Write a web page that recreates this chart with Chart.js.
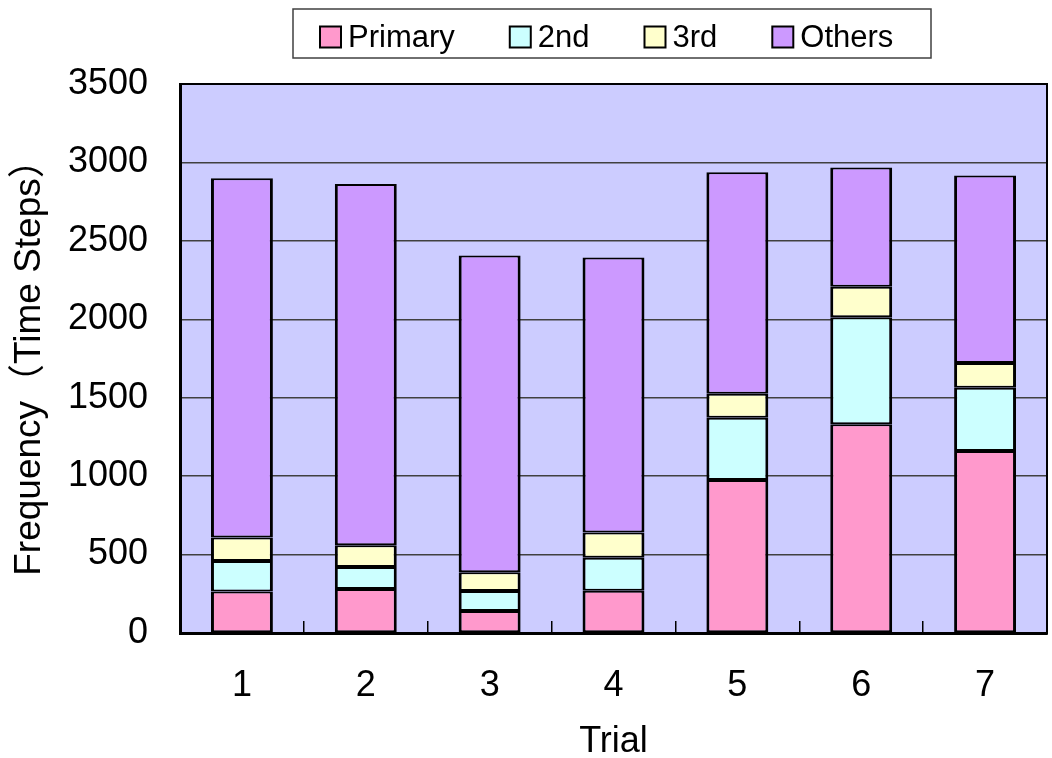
<!DOCTYPE html>
<html>
<head>
<meta charset="utf-8">
<script src="https://cdn.jsdelivr.net/npm/chart.js@4.4.0/dist/chart.umd.min.js"></script>
<style>
  html, body { margin: 0; padding: 0; background: #fff; }
</style>
</head>
<body>
<canvas id="trialChart" width="1052" height="758"></canvas>
<script>
const trials = ['1', '2', '3', '4', '5', '6', '7'];
const primary = [264, 281, 140, 270, 976, 1331, 1161];
const second = [195, 140, 128, 210, 397, 682, 402];
const third = [150, 138, 119, 160, 153, 194, 159];
const others = [2290, 2303, 2020, 1754, 1412, 761, 1195];
const yMax = 3500;
const yStep = 500;

const fontFamily = '"Liberation Sans", "Noto Sans CJK JP", Arial, sans-serif';
const axisFont = { family: fontFamily, size: 36 };

// purple plot area
const plotBg = {
  id: 'plotBg',
  beforeDraw(chart) {
    const { ctx, chartArea: a } = chart;
    ctx.save();
    ctx.fillStyle = '#CCCCFF';
    ctx.fillRect(a.left, a.top, a.right - a.left, a.bottom - a.top);
    ctx.restore();
  }
};

// black frame round the plot + boxed legend on top
const frameAndLegend = {
  id: 'frameAndLegend',
  afterDraw(chart) {
    const { ctx, chartArea: a } = chart;
    ctx.save();
    ctx.strokeStyle = '#000';
    ctx.lineWidth = 2;
    ctx.strokeRect(a.left, a.top, a.right - a.left, a.bottom - a.top);

    // legend frame
    ctx.fillStyle = '#fff';
    ctx.fillRect(293, 9, 638, 49);
    ctx.strokeStyle = '#404040';
    ctx.lineWidth = 1.5;
    ctx.strokeRect(293, 9, 638, 49);

    ctx.font = '31px "Liberation Sans", Arial, sans-serif';
    ctx.textBaseline = 'middle';
    const box = 21, gap = 7, space = 55, cy = 37;
    let x = 320;
    chart.data.datasets.forEach(ds => {
      ctx.fillStyle = ds.backgroundColor;
      ctx.fillRect(x, cy - box / 2, box, box);
      ctx.strokeStyle = '#000';
      ctx.lineWidth = 2;
      ctx.strokeRect(x, cy - box / 2, box, box);
      ctx.fillStyle = '#000';
      ctx.fillText(ds.label, x + box + gap, cy + 1);
      x += box + gap + ctx.measureText(ds.label).width + space;
    });
    ctx.restore();
  }
};

const ctx = document.getElementById('trialChart').getContext('2d');
const chart = new Chart(ctx, {
  type: 'bar',
  data: {
    labels: trials,
    datasets: [
      { label: 'Primary', data: primary, backgroundColor: '#FF99CC' },
      { label: '2nd', data: second, backgroundColor: '#CCFFFF' },
      { label: '3rd', data: third, backgroundColor: '#FFFFCC' },
      { label: 'Others', data: others, backgroundColor: '#CC99FF' }
    ]
  },
  options: {
    responsive: false,
    animation: false,
    layout: { padding: { top: 84, right: 5, left: 0, bottom: 0 } },
    datasets: {
      bar: {
        borderColor: '#000',
        borderWidth: { left: 3, right: 3, top: 2, bottom: 2 },
        borderSkipped: false,
        barPercentage: 0.5,
        categoryPercentage: 1.0
      }
    },
    plugins: {
      legend: { display: false },
      tooltip: { enabled: false }
    },
    scales: {
      x: {
        stacked: true,
        grid: {
          display: true,
          offset: true,
          drawOnChartArea: false,
          drawTicks: true,
          tickLength: -12,
          color: '#000',
          lineWidth: 1.5
        },
        border: { display: true, color: '#000', width: 3 },
        ticks: { color: '#000', font: axisFont, padding: 43, maxRotation: 0 },
        title: { display: true, text: 'Trial', color: '#000', font: axisFont, padding: { top: 0, bottom: -6 } },
        afterFit(scale) { scale.height = 125; }
      },
      y: {
        stacked: true,
        min: 0,
        max: yMax,
        grid: { color: '#404040', lineWidth: 1.5, drawTicks: false },
        border: { display: true, color: '#000', width: 3 },
        ticks: {
          stepSize: yStep,
          color: '#000',
          font: axisFont,
          padding: 32,
          callback: v => String(v)
        },
        title: {
          display: true,
          text: 'Frequency（Time Steps）',
          color: '#000',
          font: { family: fontFamily, size: 37 },
          padding: { top: 8, bottom: 0 }
        },
        afterFit(scale) { scale.width = 180; }
      }
    }
  },
  plugins: [plotBg, frameAndLegend]
});
</script>
</body>
</html>
